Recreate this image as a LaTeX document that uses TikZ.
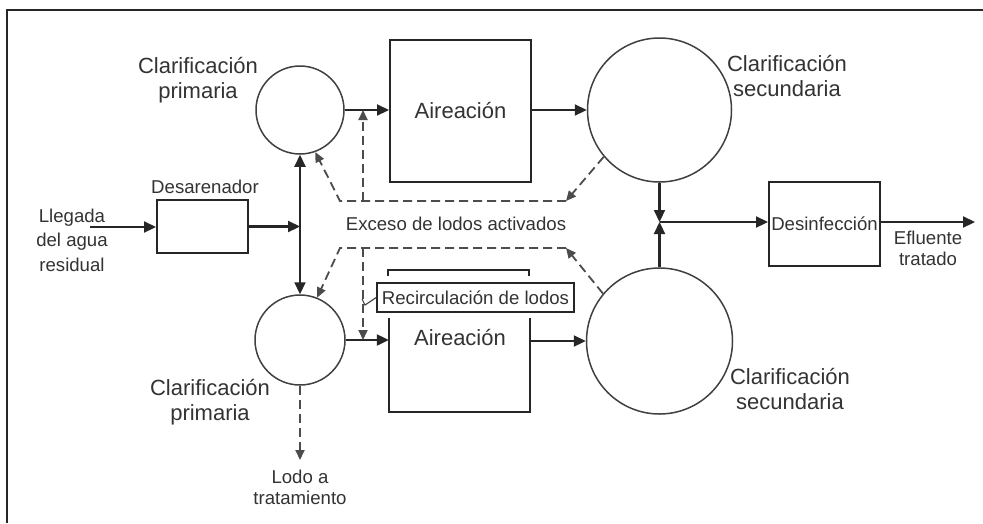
\documentclass[tikz,border=0pt]{standalone}
\usepackage{fontspec}
\setmainfont{Liberation Sans}
\usetikzlibrary{arrows.meta}
\begin{document}
\begin{tikzpicture}[x=1pt,y=-1pt,
  every node/.style={text=black!80, font=\fontsize{18.6}{23}\selectfont, align=center},
  big/.style={font=\fontsize{22}{25}\selectfont},
  unit/.style={draw=black!85, line width=2pt, rectangle, inner sep=0pt},
  tank/.style={draw=black!75, line width=1.5pt, circle, inner sep=0pt},
  flow/.style={draw=black!85, line width=2.2pt, -{Triangle[length=12pt,width=11pt]}},
  flowboth/.style={flow, {Triangle[length=12pt,width=11pt]}-{Triangle[length=12pt,width=11pt]}},
  sludge/.style={draw=black!70, line width=1.8pt, dash pattern=on 9pt off 5pt, -{Triangle[length=10pt,width=9pt]}},
]
\useasboundingbox (0,0) rectangle (983,523);
\fill[white] (0,0) rectangle (983,523);
% frame
\draw[line width=2pt, black!85] (7,523) -- (7,10) -- (983,10);

% tanks
\node[tank, minimum size=88pt] (cp1) at (300,110) {};
\node[tank, minimum size=90pt] (cp2) at (300,340) {};
\node[tank, minimum size=144pt] (cs1) at (659.5,110) {};
\node[tank, minimum size=146pt] (cs2) at (659.5,341) {};

% process units
\node[unit, minimum width=141pt, minimum height=142pt, big] (air1) at (460.5,111) {Aireaci\'on};
\node[inner sep=0pt, minimum width=141pt, minimum height=94pt] (air2) at (459.5,365) {};
\draw[line width=2pt, black!85] (air2.north west) -- (air2.south west) -- (air2.south east) -- (air2.north east);
\node[big] (air2lbl) at (460,337) {Aireaci\'on};
\draw[line width=1.7pt, black!85] (388,276) -- (388,270) -- (529,270) -- (529,276);
\node[draw=black!85, line width=1.4pt, minimum width=197pt, minimum height=29pt, inner sep=0pt] (rec) at (475.5,297.5) {Recirculaci\'on de lodos};

\node[unit, minimum width=91pt, minimum height=53pt] (des) at (202.5,226.5) {};
\node (deslbl) at (205,187) {Desarenador};
\node[unit, minimum width=111pt, minimum height=84pt] (dis) at (824.5,224) {Desinfecci\'on};

% labels
\node[big] (l1) at (198,80) {Clarificaci\'on\\primaria};
\node[big] (l2) at (210,402) {Clarificaci\'on\\primaria};
\node[big] (l3) at (787,76) {Clarificaci\'on\\secundaria};
\node[big] (l4) at (790,389) {Clarificaci\'on\\secundaria};
\node[font=\fontsize{18.6}{24.5}\selectfont] (inl) at (72,240) {Llegada\\del agua\\residual};
\node[font=\fontsize{18.6}{21}\selectfont] (efl) at (928,248) {Efluente\\tratado};
\node[font=\fontsize{18.6}{21}\selectfont, inner ysep=10pt, anchor=north] (lodo) at (300,460) {Lodo a\\tratamiento};
\node (exc) at (456,224) {Exceso de lodos activados};

% main flow
\coordinate (in) at (90,227);
\coordinate (j) at (659.5,222);
\coordinate (out) at (975,222);
\draw[flow] (in) -- (in -| des.west);
\draw[flow] (des.east) -- (des.east -| cp1.south);
\draw[flowboth] (cp1.south) -- (cp2.north);
\draw[flow] (cp1.east) -- (air1.west |- cp1.east);
\draw[flow] (air1.east |- cs1.west) -- (cs1.west);
\draw[flow] (cp2.east) -- (cp2.east -| air2.west);
\draw[flow] (air2.east |- cs2.west) -- (cs2.west);
\draw[flow] (cs1.south) -- (j);
\draw[flow] (cs2.north) -- (j);
\draw[flow] (j) -- (j -| dis.west);
\draw[flow] (dis.east |- j) -- (out);

% sludge lines
\coordinate (ua) at (566,201);
\coordinate (ub) at (340,201);
\coordinate (ur) at (363,201);
\draw[sludge] (cs1.220) -- (ua);
\draw[sludge] (ua) -- (ub) -- (cp1.290);
\draw[sludge] (ur) -- (ur |- cp1.east);

\coordinate (la) at (566,248);
\coordinate (lb) at (340,248);
\coordinate (lr) at (363,248);
\draw[sludge] (cs2.140) -- (la);
\draw[sludge] (la) -- (lb) -- (cp2.68);
\draw[sludge] (lr) -- (lr |- cp2.east);
\draw[black!75, line width=1.1pt] (362,299) -- (365,305) -- (rec.west);

\draw[sludge] (cp2.south) -- (lodo.north);
\end{tikzpicture}
\end{document}
